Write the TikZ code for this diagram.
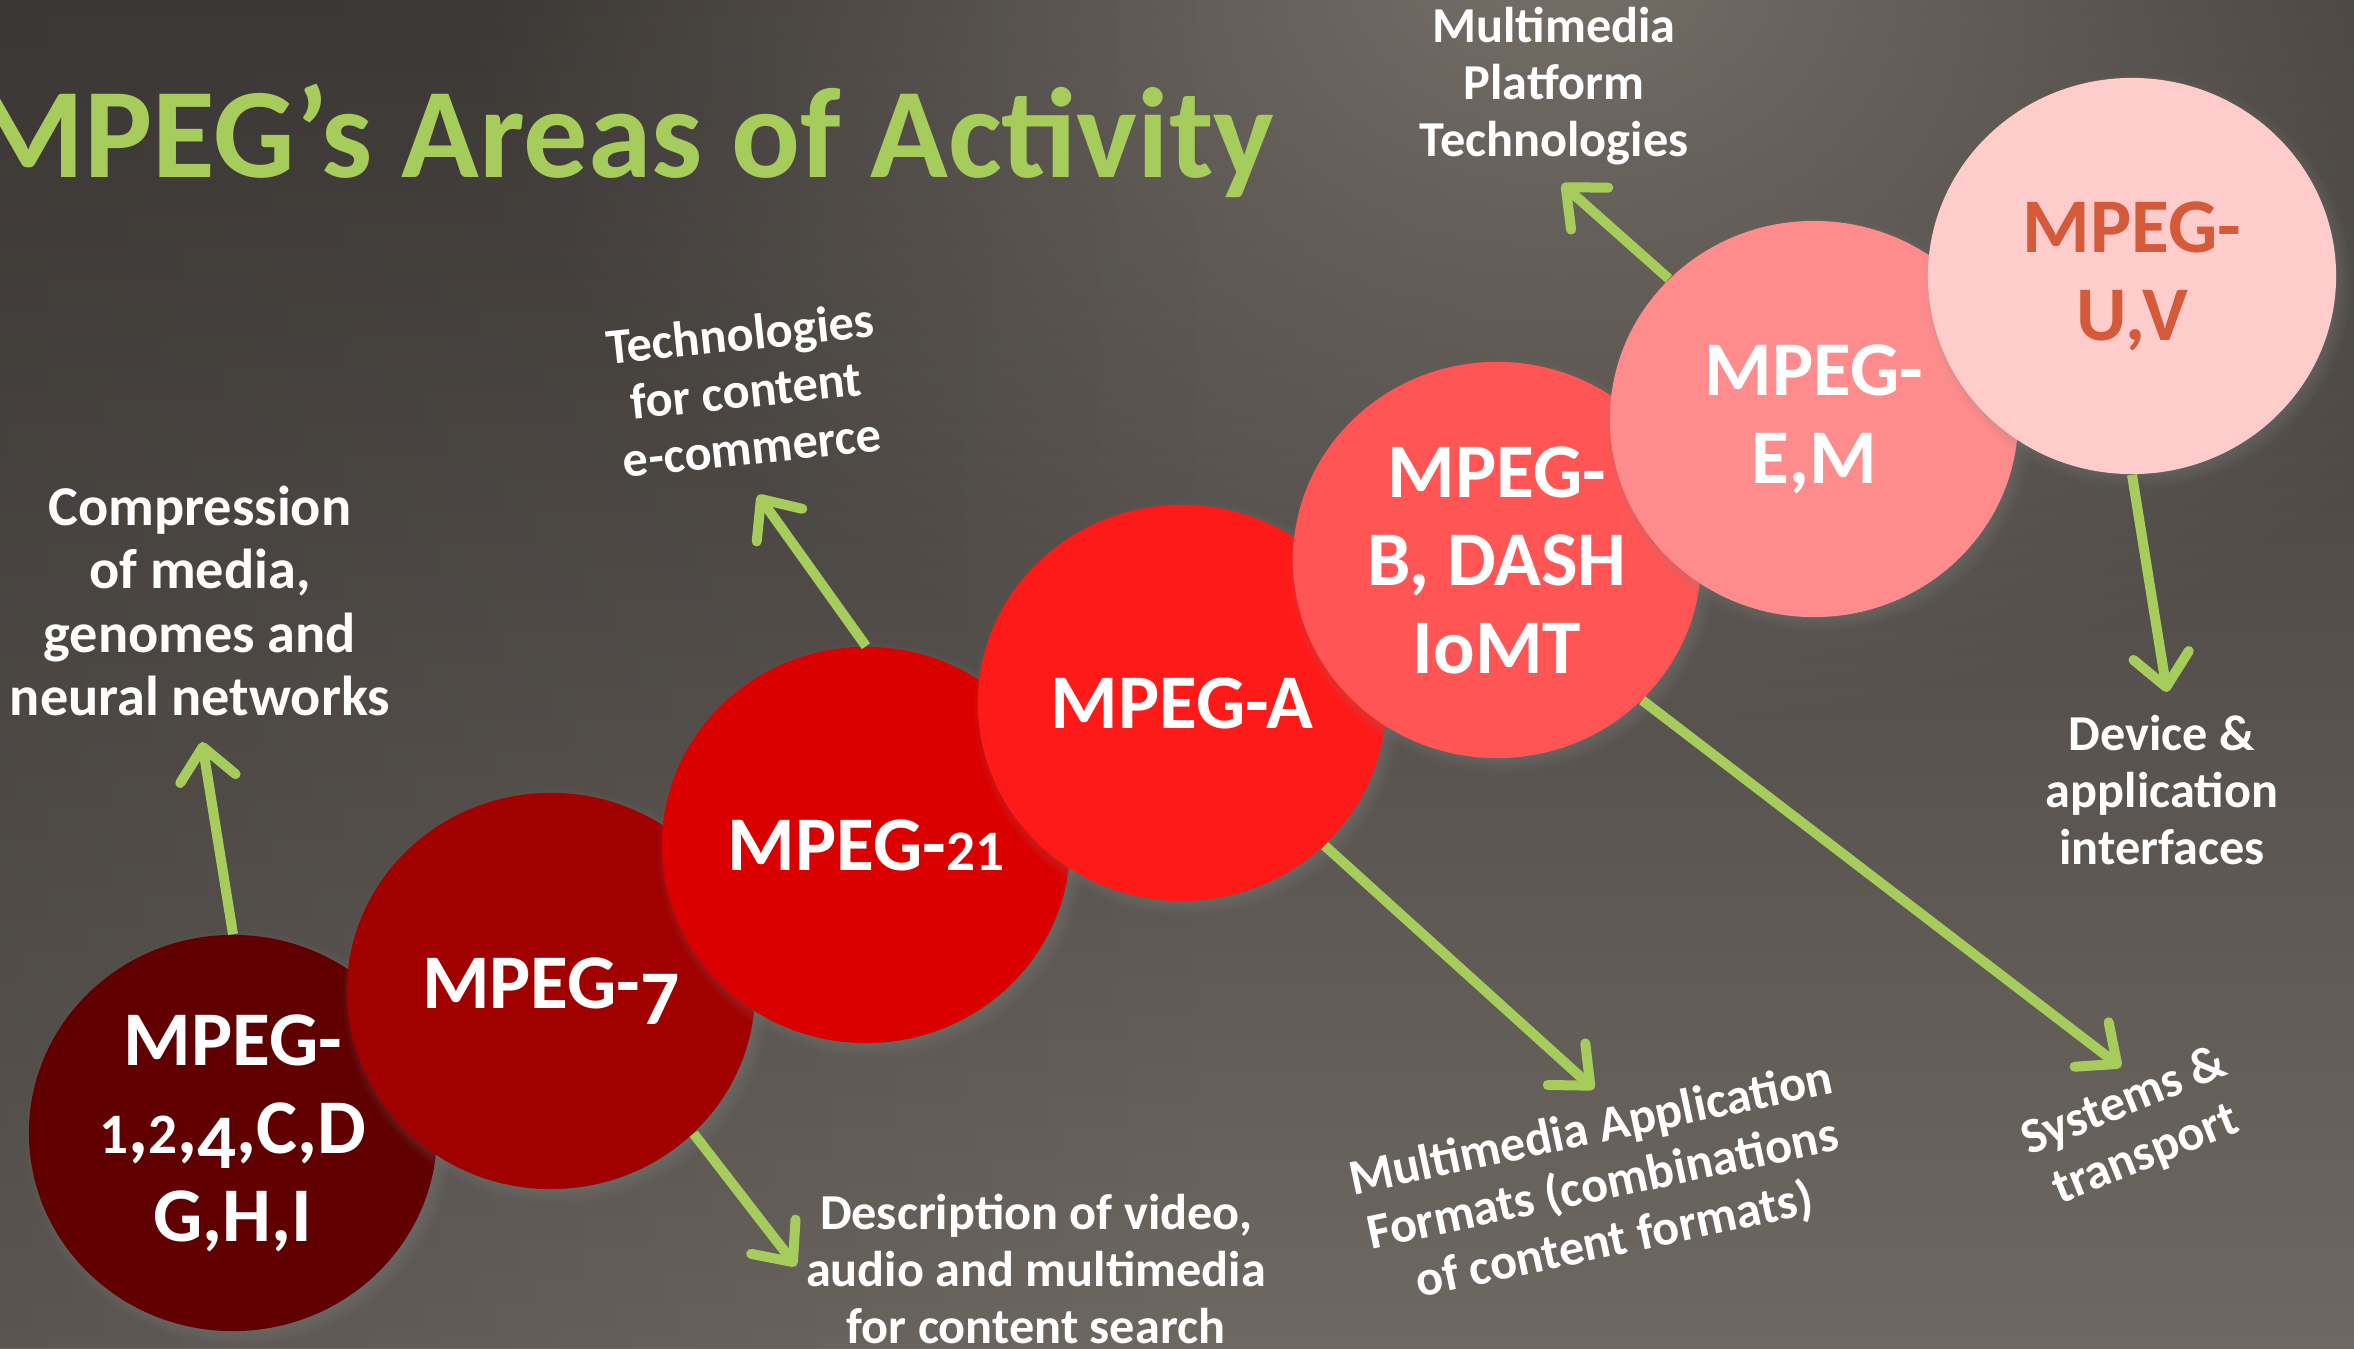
\documentclass[tikz,border=0pt]{standalone}
\usepackage{fontspec}
\setmainfont{Carlito}
\usetikzlibrary{arrows.meta,shapes.geometric,shadows,fadings}

% old style figures: short ones sit on the baseline, tall ones hang below it
\newcommand\lowfig[1]{\scalebox{.74}{#1}}
\newcommand\dropfig[1]{\raisebox{-.2em}{#1}}

\definecolor{bgtop}{HTML}{3E3A37}
\definecolor{bgmid}{HTML}{4A4642}
\definecolor{bgbottom}{HTML}{6E6862}
\definecolor{bgglow}{HTML}{767069}
\definecolor{bgshade}{HTML}{363230}
\definecolor{leafgreen}{HTML}{A6CC5C}
\definecolor{disc1}{HTML}{600000}
\definecolor{disc2}{HTML}{A00000}
\definecolor{disc3}{HTML}{DB0000}
\definecolor{disc4}{HTML}{FF1A1A}
\definecolor{disc5}{HTML}{FF5555}
\definecolor{disc6}{HTML}{FF8C8C}
\definecolor{disc7}{HTML}{FFCCCC}
\definecolor{rust}{HTML}{D45A3A}

\tikzfading[name=glow fade, inner color=transparent!0, outer color=transparent!100]
\tikzfading[name=left fade, left color=transparent!0, right color=transparent!100]

\begin{document}
\begin{tikzpicture}[x=0.01cm,y=-0.01cm,
  disc/.style={ellipse,minimum width=4.08cm,minimum height=3.96cm,inner sep=0pt,align=center,
    font=\fontsize{22}{25}\selectfont\bfseries,
    circular drop shadow={shadow scale=1.05,shadow yshift=-0.05cm,opacity=.6}},
  note/.style={text=white,align=center,font=\fontsize{14.3}{16.2}\selectfont\bfseries},
  arr/.style={draw=leafgreen,line width=0.1cm,-{Straight Barb[length=0.32cm,width=0.56cm,round]}}]

  % background
  \path[use as bounding box] (0,0) rectangle (2354,1348);
  \shade[top color=bgtop,middle color=bgmid,bottom color=bgbottom] (0,0) rectangle (2354,1348);
  \fill[bgglow,path fading=glow fade] (1560,-50) ellipse (1100 and 800);
  \fill[bgshade,path fading=left fade,fill opacity=.35] (0,0) rectangle (1200,1348);

  \node[anchor=base west,text=leafgreen,font=\fontsize{36.5}{40}\selectfont\bfseries] (title) at (-40,177) {MPEG’s Areas of Activity};

  % the seven standards, climbing to the right
  \foreach \n/\x/\y/\col/\tcol/\lab in {
      1/233/1133/disc1/white/{MPEG-\\\lowfig{1},\lowfig{2},\dropfig{4},C,D\\G,H,I},
      2/551/991/disc2/white/{MPEG-\dropfig{7}},
      3/866/845/disc3/white/{MPEG-\lowfig{2}\lowfig{1}},
      4/1182/703/disc4/white/{MPEG-A},
      5/1497/560/disc5/white/{MPEG-\\B, DASH\\IoMT},
      6/1814/419/disc6/white/{MPEG-\\E,M},
      7/2132/276/disc7/rust/{MPEG-\\U,V}}
    \node[disc,fill=\col,text=\tcol] (m\n) at (\x,\y) {\lab};

  % arrow heads
  \coordinate (h1) at (202,742);
  \coordinate (h2) at (758,495);
  \coordinate (h3) at (1562,184);
  \coordinate (h4) at (2167,692);
  \coordinate (h5) at (2121,1067);
  \coordinate (h6) at (1594,1089);
  \coordinate (h7) at (796,1266);

  \draw[arr] (m1.90) -- (h1);
  \draw[arr] (m3.90) -- (h2);
  \draw[arr] (m6.136) -- (h3);
  \draw[arr] (m7.south) -- (h4);
  \draw[arr] (m5.-44) -- (h5);
  \draw[arr] (m4.-45) -- (h6);
  \draw[arr] (m2.-45) -- (h7);

  % what each group covers
  \node[note,font=\fontsize{16}{18}\selectfont\bfseries] (t1) at (200,601) {Compression\\of media,\\genomes and\\neural networks};
  \node[note,rotate=6] (t2) at (746,390) {Technologies\\for content\\e-commerce};
  \node[note] (t3) at (1554,86) {Multimedia\\Platform\\Technologies};
  \node[note] (t4) at (2162,790) {Device \&\\application\\interfaces};
  \node[note,rotate=22] (t5) at (2135,1129) {Systems \&\\transport};
  \node[note,rotate=12] (t6) at (1603,1186) {Multimedia Application\\Formats (combinations\\of content formats)};
  \node[note] (t7) at (1036,1269) {Description of video,\\audio and multimedia\\for content search};
\end{tikzpicture}
\end{document}
